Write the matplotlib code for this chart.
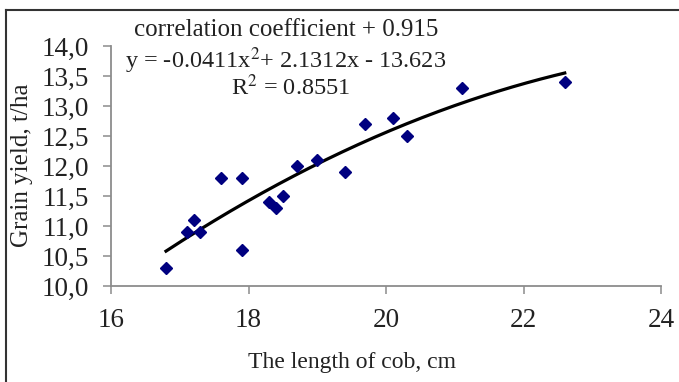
import matplotlib
matplotlib.use('Agg')
import matplotlib.pyplot as plt
import numpy as np
from matplotlib.lines import Line2D

plt.rcParams['font.family'] = ['Liberation Serif', 'DejaVu Serif']

# Data: cob length (cm) vs grain yield (t/ha)
cob_length = [16.8, 17.1, 17.2, 17.3, 17.6, 17.9, 17.9, 18.3, 18.4, 18.5,
              18.7, 19.0, 19.4, 19.7, 20.1, 20.3, 21.1, 22.6]
grain_yield = [10.3, 10.9, 11.1, 10.9, 11.8, 11.8, 10.6, 11.4, 11.3, 11.5,
               12.0, 12.1, 11.9, 12.7, 12.8, 12.5, 13.3, 13.4]

# Polynomial trendline coefficients (as printed on chart)
coef = [-0.0411, 2.1312, -13.623]

x_ticks = [16, 18, 20, 22, 24]
y_ticks = [10.0, 10.5, 11.0, 11.5, 12.0, 12.5, 13.0, 13.5, 14.0]
y_ticklabels = ['10,0', '10,5', '11,0', '11,5', '12,0', '12,5', '13,0', '13,5', '14,0']

AXIS_GRAY = '#8c8c8c'
TEXT = '#222222'
NAVY = '#000080'

fig = plt.figure(figsize=(6.79, 3.82), dpi=100)
ax = fig.add_axes([111 / 679, 1 - 286 / 382, 550 / 679, 240 / 382])

ax.plot(cob_length, grain_yield, linestyle='none', marker='D', markersize=6.5,
        color=NAVY, zorder=3)

xs = np.linspace(min(cob_length), max(cob_length), 200)
ax.plot(xs, np.polyval(coef, xs), color='black', linewidth=2.3, zorder=2)

ax.set_xlim(16, 24)
ax.set_ylim(10, 14)
ax.set_xticks(x_ticks)
ax.set_yticks(y_ticks)
ax.set_yticklabels(y_ticklabels)

for side in ['top', 'right']:
    ax.spines[side].set_visible(False)
for side in ['left', 'bottom']:
    ax.spines[side].set_color(AXIS_GRAY)
    ax.spines[side].set_linewidth(1.3)

ax.tick_params(axis='both', direction='out', length=6, width=1.1, color=AXIS_GRAY,
               labelsize=19.5, labelcolor=TEXT, pad=10)

ax.set_xlabel('The length of cob, cm', fontsize=17, color=TEXT, va='center')
ax.set_ylabel('Grain yield, t/ha', fontsize=18, color=TEXT, va='center')
ax.xaxis.set_label_coords(0.438, -0.317)
ax.yaxis.set_label_coords(-0.162, 0.504)

# Equation annotations
ax.text(0.318, 1.068, 'correlation coefficient + 0.915', transform=ax.transAxes,
        ha='center', va='center', fontsize=18, color=TEXT)
ax.text(0.318, 0.94, 'y = -0.0411x$^{2}$+ 2.1312x - 13.623', transform=ax.transAxes,
        ha='center', va='center', fontsize=17.5, color=TEXT, math_fontfamily='stix')
ax.text(0.326, 0.828, 'R$^{2}$ = 0.8551', transform=ax.transAxes,
        ha='center', va='center', fontsize=17.5, color=TEXT, math_fontfamily='stix')

# Cropped frame (top and left edges)
fig.add_artist(Line2D([6 / 679, 6 / 679], [0, 1 - 10 / 382], transform=fig.transFigure,
                      color='#333333', linewidth=1.5))
fig.add_artist(Line2D([6 / 679, 1], [1 - 10 / 382, 1 - 10 / 382], transform=fig.transFigure,
                      color='#333333', linewidth=1.5))

fig.savefig('out.png', dpi=100)
